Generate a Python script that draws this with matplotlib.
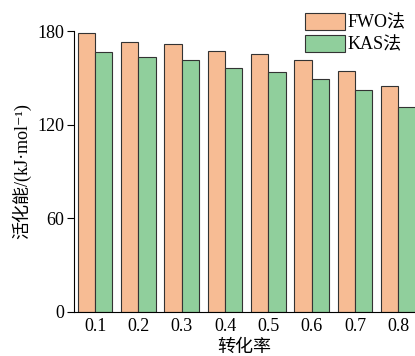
import numpy as np
import matplotlib
matplotlib.use("Agg")
import matplotlib.pyplot as plt

plt.rcParams['font.family'] = ['Liberation Serif', 'DejaVu Serif', 'Noto Sans CJK SC']

conversion = ['0.1', '0.2', '0.3', '0.4', '0.5', '0.6', '0.7', '0.8']
fwo = [178.9, 173.3, 171.8, 167.5, 165.2, 161.2, 154.7, 144.7]
kas = [166.7, 163.1, 161.2, 156.5, 153.7, 149.4, 142.1, 131.3]

fig = plt.figure(figsize=(4.15, 3.56), dpi=100)
ax = fig.add_axes([0.178, 0.1236, 0.822, 0.789])

x = np.arange(len(conversion))
w = 0.4
ax.bar(x - w / 2, fwo, w, color='#F7BC94', edgecolor='#333333', linewidth=0.8, label='FWO法')
ax.bar(x + w / 2, kas, w, color='#90CF9C', edgecolor='#333333', linewidth=0.8, label='KAS法')

ax.set_xlim(-0.49, 7.385)
ax.set_ylim(0, 180)
ax.set_yticks([0, 60, 120, 180])
ax.set_xticks(x)
ax.set_xticklabels(conversion)
ax.tick_params(axis='x', length=0, labelsize=13, pad=4)
ax.tick_params(axis='y', length=5, width=0.8, labelsize=13, pad=2)
ax.spines['top'].set_visible(False)
ax.spines['right'].set_visible(False)

ax.set_xlabel('转化率', fontsize=13, labelpad=3)
ax.set_ylabel('活化能/(kJ·mol⁻¹)', fontsize=13, labelpad=4)

fig.legend(loc='upper right', bbox_to_anchor=(0.995, 0.985), frameon=False,
           fontsize=13, handlelength=2.2, handleheight=1.1,
           handletextpad=0.15, labelspacing=0.2, borderaxespad=0)

fig.savefig('out.png', dpi=100)
